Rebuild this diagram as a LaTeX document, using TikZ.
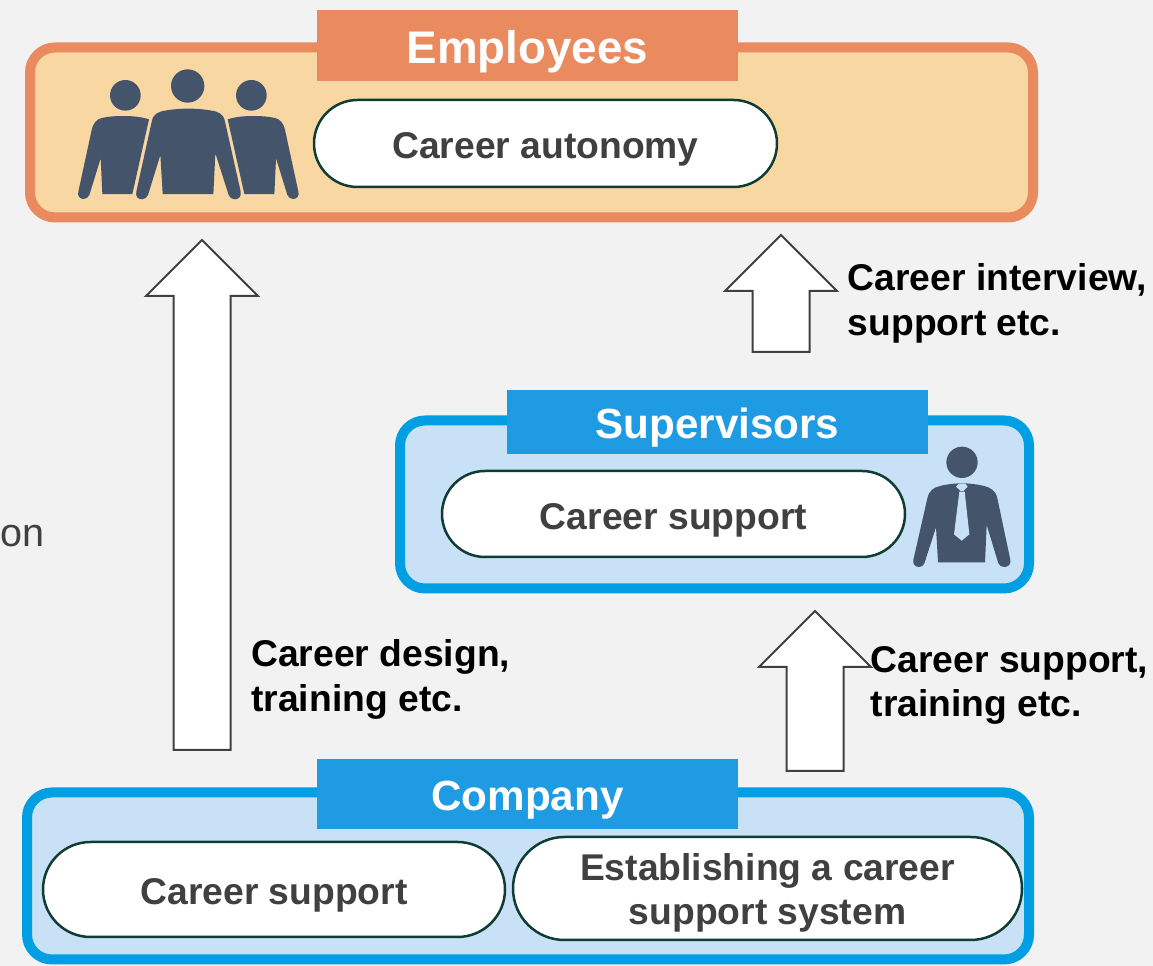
\documentclass[tikz,border=0pt]{standalone}
\usepackage{fontspec}
\setmainfont{Liberation Sans}
\usetikzlibrary{shapes.misc,shapes.arrows}
\definecolor{pagegray}{HTML}{F2F2F2}
\definecolor{orangeline}{HTML}{E98A5F}
\definecolor{orangefill}{HTML}{F8D7A3}
\definecolor{blueline}{HTML}{009FE3}
\definecolor{bluefill}{HTML}{C9E1F6}
\definecolor{bluetitle}{HTML}{1F9BE3}
\definecolor{pillline}{HTML}{0F3D33}
\definecolor{pilltext}{HTML}{404040}
\definecolor{figslate}{HTML}{44546A}
\tikzset{
  groupbox/.style={draw,rectangle,rounded corners=0.5cm,line width=0.2cm,inner sep=0},
  titlebox/.style={rectangle,inner sep=0,text=white,minimum width=8.42cm,text height=19.2pt,text depth=0pt,font=\fontsize{24}{28}\selectfont\bfseries},
  pillbox/.style={draw=pillline,fill=white,rounded rectangle,line width=0.05cm,inner sep=0,align=center,text=pilltext,text height=17.4pt,text depth=0pt,font=\fontsize{21.2}{25.5}\selectfont\bfseries},
  arrowbox/.style={draw=pilltext,fill=white,single arrow,shape border rotate=90,line width=0.04cm,inner sep=0.55cm,minimum width=2.2cm,single arrow head extend=0.55cm,single arrow tip angle=90,anchor=south},
  sidelabel/.style={anchor=west,align=left,inner sep=0,font=\fontsize{21.2}{25.5}\selectfont\bfseries},
  sideperson/.pic={
    \fill (316,286) circle (46);
    \fill (310,348) .. controls (340,348) and (365,351) .. (387,358) -- (337,582) -- (247,582) -- (242,475)
      -- (208,585) .. controls (204,592) and (199,597) .. (191,597) .. controls (180,597) and (171,588) .. (175,575)
      -- (215,390) .. controls (220,368) and (230,358) .. (245,354) .. controls (265,349) and (290,348) .. (310,348) -- cycle;
  }
}
\begin{document}
\begin{tikzpicture}
  \useasboundingbox (0,0) rectangle (23.06,19.32);
  \fill [pagegray] (0,0) rectangle (23.06,19.32);

  % Text cut off at the left edge
  \node [anchor=west,inner sep=0,text=pilltext,font=\fontsize{22.5}{26}\selectfont] (cutoff) at (0,8.60) {on};

  % Employees
  \node [groupbox,draw=orangeline,fill=orangefill,minimum width=20.06cm,minimum height=3.40cm] (employeesbox) at (10.63,16.67) {};
  \node [titlebox,fill=orangeline,minimum height=1.42cm,text height=20.4pt,font=\fontsize{26}{30}\selectfont\bfseries] (employeestitle) at (10.55,18.41) {Employees};
  \node [pillbox,minimum width=9.26cm,minimum height=1.74cm] (autonomypill) at (10.91,16.45) {Career autonomy};

  % Supervisors
  \node [groupbox,draw=blueline,fill=bluefill,minimum width=12.58cm,minimum height=3.36cm] (supervisorsbox) at (14.29,9.23) {};
  \node [titlebox,fill=bluetitle,minimum height=1.28cm] (supervisorstitle) at (14.35,10.88) {Supervisors};
  \node [pillbox,minimum width=9.26cm,minimum height=1.72cm] (supervisorspill) at (13.47,9.04) {Career support};

  % Company
  \node [groupbox,draw=blueline,fill=bluefill,minimum width=20.04cm,minimum height=3.34cm] (companybox) at (10.56,1.80) {};
  \node [titlebox,fill=bluetitle,minimum height=1.40cm] (companytitle) at (10.55,3.44) {Company};
  \node [pillbox,minimum width=9.24cm,minimum height=1.90cm] (companypill) at (5.48,1.53) {Career support};
  \node [pillbox,minimum width=10.18cm,minimum height=2.06cm,text height=41.5pt] (systempill) at (15.35,1.55) {Establishing a career\\support system};

  % Arrows
  \node [arrowbox,minimum height=10.2cm] (designarrow) at (4.04,4.30) {};
  \node [arrowbox,minimum height=2.34cm] (interviewarrow) at (15.62,12.26) {};
  \node [arrowbox,minimum height=3.2cm] (supportarrow) at (16.30,3.88) {};

  % Labels beside the arrows
  \node [sidelabel] (designlabel) at (5.02,5.73) {Career design,\\training etc.};
  \node [sidelabel] (interviewlabel) at (16.95,13.25) {Career interview,\\support etc.};
  \node [sidelabel] (supportlabel) at (17.41,5.61) {Career support,\\training etc.};

  % Three employees
  \begin{scope}[shift={(0.4,19.32)},x=0.006667cm,y=-0.006667cm,figslate]
    \pic at (0,0) {sideperson};
    \pic [xscale=-1] at (1010,0) {sideperson};
    \fill (503,258) circle (50);
    \fill (505,326) .. controls (525,326) and (545,327) .. (570,331) .. controls (595,335) and (610,340) .. (615,365) -- (662,575)
      .. controls (665,590) and (655,598) .. (644,598) .. controls (635,598) and (628,592) .. (626,585)
      -- (586,460) -- (580,582) -- (428,582) -- (421,465) -- (384,585)
      .. controls (380,592) and (375,598) .. (366,598) .. controls (355,598) and (345,590) .. (349,575)
      -- (395,365) .. controls (400,340) and (415,335) .. (440,331) .. controls (465,327) and (485,326) .. (505,326) -- cycle;
  \end{scope}

  % Supervisor with tie
  \begin{scope}[shift={(17.6,10.92)},x=0.006667cm,y=-0.006667cm,figslate]
    \fill (246,127) circle (47);
    \fill (246,190) .. controls (267,190) and (287,192) .. (312,198) .. controls (332,203) and (347,212) .. (352,235) -- (391,420)
      .. controls (394,432) and (384,441) .. (373,441) .. controls (365,441) and (358,437) .. (355,430)
      -- (320,315) -- (315,427) -- (174,427) -- (168,322) -- (133,430)
      .. controls (130,437) and (125,441) .. (117,441) .. controls (106,441) and (97,432) .. (100,420)
      -- (142,235) .. controls (147,212) and (160,203) .. (180,198) .. controls (205,192) and (225,190) .. (246,190) -- cycle;
    \fill [bluefill] (238,215) -- (254,215) -- (268,343) -- (245,362) -- (222,343) -- cycle;
    \fill [bluefill] (228,200) -- (236,191) -- (256,191) -- (263,200) -- (250,213) -- (242,213) -- cycle;
  \end{scope}
\end{tikzpicture}
\end{document}
